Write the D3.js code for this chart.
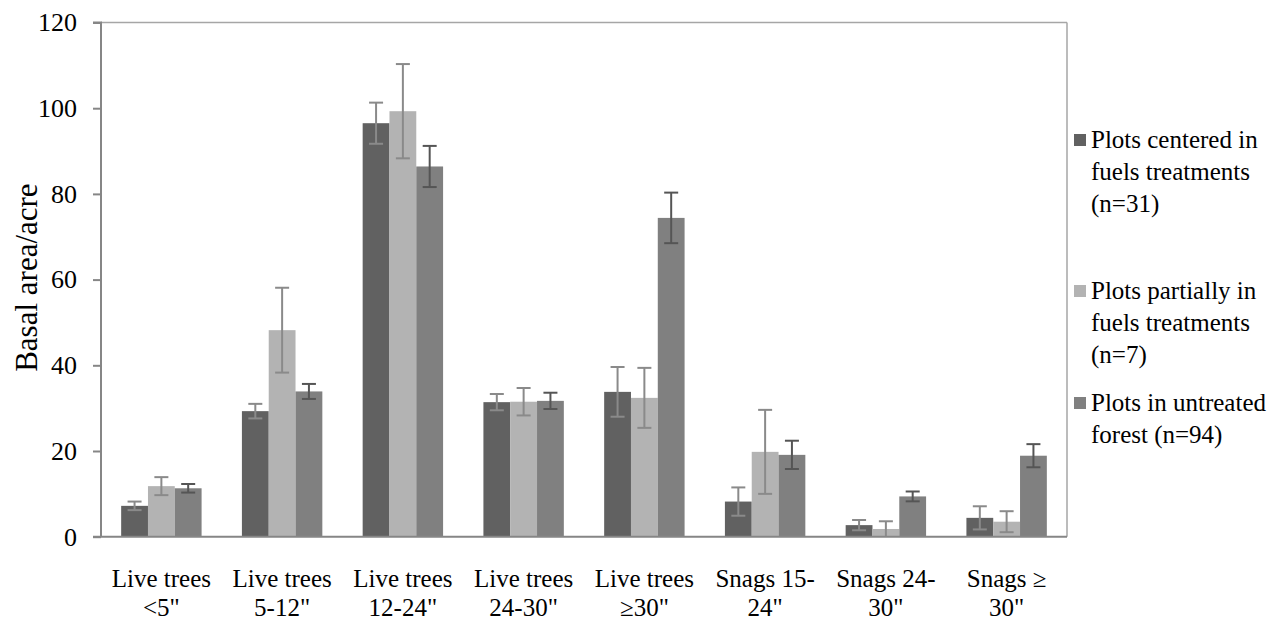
<!DOCTYPE html>
<html><head><meta charset="utf-8">
<script src="https://cdn.jsdelivr.net/npm/d3@7/dist/d3.min.js"></script>
<style>html,body{margin:0;padding:0;background:#fff;}svg{display:block;}</style>
</head><body>
<svg id="chart" width="1283" height="621"></svg>
<script>
const categories = [["Live trees","<5\""],["Live trees","5-12\""],["Live trees","12-24\""],["Live trees","24-30\""],["Live trees","\u226530\""],["Snags 15-","24\""],["Snags 24-","30\""],["Snags \u2265","30\""]];
const seriesNames = [["Plots centered in","fuels treatments","(n=31)"],["Plots partially in","fuels treatments","(n=7)"],["Plots in untreated","forest (n=94)"]];
const centered = [7.2, 29.3, 96.5, 31.4, 33.8, 8.2, 2.7, 4.4];
const centeredErr = [1.0, 1.7, 4.8, 1.9, 5.8, 3.3, 1.2, 2.7];
const partial = [11.8, 48.2, 99.3, 31.5, 32.4, 19.8, 1.8, 3.5];
const partialErr = [2.1, 9.9, 11.0, 3.2, 7.0, 9.8, 1.8, 2.45];
const untreated = [11.3, 33.9, 86.4, 31.7, 74.4, 19.1, 9.4, 18.9];
const untreatedErr = [1.0, 1.75, 4.8, 1.9, 5.9, 3.3, 1.15, 2.7];
const yTicks = [0, 20, 40, 60, 80, 100, 120];
const yTitle = "Basal area/acre";

const FONT = "'Liberation Serif', 'DejaVu Serif', 'Times New Roman', serif";
const colors = ["#616161", "#b3b3b3", "#808080"];
const errColors = ["#8a8a8a", "#8a8a8a", "#555555"];
const values = [centered, partial, untreated];
const errs = [centeredErr, partialErr, untreatedErr];

const svg = d3.select("#chart");
const L = 101, R = 1067, T = 22.5, B = 536.7;
const x0 = d3.scaleBand().domain(d3.range(categories.length)).range([L, R]).paddingInner(0.334).paddingOuter(0.167);
const x1 = d3.scaleBand().domain([0,1,2]).range([0, x0.bandwidth()]);
const y = d3.scaleLinear().domain([0, 120]).range([B, T]);

values.forEach((vals, s) => {
  svg.append("g").selectAll("rect").data(vals).join("rect")
    .attr("x", (d, i) => x0(i) + x1(s))
    .attr("y", d => y(d))
    .attr("width", x1.bandwidth())
    .attr("height", d => B - y(d))
    .attr("fill", colors[s]);
});

values.forEach((vals, s) => {
  const g = svg.append("g").attr("stroke", errColors[s]).attr("stroke-width", 2);
  vals.forEach((v, i) => {
    const cx = x0(i) + x1(s) + x1.bandwidth() / 2;
    const hi = v + errs[s][i], lo = Math.max(0, v - errs[s][i]);
    g.append("line").attr("x1", cx).attr("x2", cx).attr("y1", y(hi)).attr("y2", y(lo));
    g.append("line").attr("x1", cx - 7).attr("x2", cx + 7).attr("y1", y(hi)).attr("y2", y(hi));
    if (v - errs[s][i] > 0.05)
      g.append("line").attr("x1", cx - 7).attr("x2", cx + 7).attr("y1", y(lo)).attr("y2", y(lo));
  });
});

svg.append("line").attr("x1", L).attr("x2", R).attr("y1", T).attr("y2", T).attr("stroke", "#a6a6a6").attr("stroke-width", 1.5);
svg.append("line").attr("x1", R).attr("x2", R).attr("y1", T).attr("y2", B).attr("stroke", "#a6a6a6").attr("stroke-width", 1.5);

const yAxis = svg.append("g").attr("transform", `translate(${L},0)`)
  .call(d3.axisLeft(y).tickValues(yTicks).tickSize(8).tickPadding(16));
yAxis.attr("font-family", FONT).attr("font-size", 26);
yAxis.select(".domain").attr("stroke", "#868686").attr("stroke-width", 2).attr("d", `M-8,${T}H0V${B}`);
yAxis.selectAll(".tick line").attr("stroke", "#868686").attr("stroke-width", 2);
yAxis.selectAll(".tick text").attr("fill", "#000").style("font-family", FONT).style("font-size", "26px");

const xAxis = svg.append("g").attr("transform", `translate(0,${B})`)
  .call(d3.axisBottom(x0).tickSize(0).tickFormat(""));
xAxis.attr("font-family", FONT);
xAxis.select(".domain").attr("stroke", "#868686").attr("stroke-width", 2).attr("d", `M${L - 8},0H${R}`);
xAxis.selectAll(".tick").each(function(d) {
  const t = d3.select(this).append("text").attr("text-anchor", "middle")
    .style("font-family", FONT).style("font-size", "25px").attr("fill", "#000");
  categories[d].forEach((line, k) => {
    t.append("tspan").attr("x", 0).attr("y", 50 + k * 29).text(line);
  });
});

svg.append("text").attr("transform", `translate(37,${(T + B) / 2 - 2}) rotate(-90)`)
  .attr("text-anchor", "middle").style("font-family", FONT).style("font-size", "31px").attr("fill", "#000").text(yTitle);

const legendY = [140, 291, 403];
seriesNames.forEach((lines, s) => {
  const g = svg.append("g").attr("transform", `translate(1074,${legendY[s]})`);
  g.append("rect").attr("x", 0).attr("y", -6).attr("width", 12).attr("height", 12).attr("fill", colors[s]);
  const t = g.append("text").style("font-family", FONT).style("font-size", "25px").attr("fill", "#000");
  lines.forEach((line, k) => t.append("tspan").attr("x", 17).attr("y", 8 + k * 32).text(line));
});
</script>
</body></html>
